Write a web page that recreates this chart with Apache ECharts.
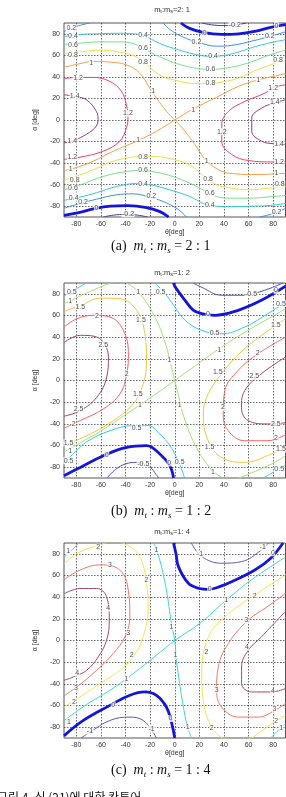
<!DOCTYPE html>
<html>
<head>
<meta charset="utf-8">
<script src="https://cdn.jsdelivr.net/npm/echarts@6/dist/echarts.min.js"></script>
<style>
html, body { margin: 0; padding: 0; background: #fff; }
#main { width: 286px; height: 797px; }
</style>
</head>
<body>
<div id="main"></div>
<script>
// 坐标刻度
var xTicks = [-80, -60, -40, -20, 0, 20, 40, 60, 80];
var yTicks = [-80, -60, -40, -20, 0, 20, 40, 60, 80];

// (a) mt : ms = 2 : 1   [level, [[theta, alpha], ...]]
var curvesA = [
    [-0.2, [[22, 90], [30, 88.3], [40, 87.6], [50, 88.3], [58, 90]]],
    [-0.2, [[-22, -90], [-30, -88.3], [-40, -87.6], [-50, -88.3], [-58, -90]]],
    [0, [[5, 90], [12, 85], [24, 81], [38, 79.5], [52, 80], [66, 82.5], [78, 86], [90, 88.5]]],
    [0, [[-5, -90], [-12, -85], [-24, -81], [-38, -79.5], [-52, -80], [-66, -82.5], [-78, -86], [-90, -88.5]]],
    [0.2, [[-90, 82], [-80, 86.8], [-69, 90]]],
    [0.2, [[-9.5, 90], [-5, 85], [1.4, 80], [9.5, 75.6], [20.3, 71.6], [33.9, 68.5], [47.4, 69.4], [63.7, 73.5], [77, 77.5], [90, 81.8]]],
    [0.2, [[90, -82], [80, -86.8], [69, -90]]],
    [0.2, [[9.5, -90], [5, -85], [-1.4, -80], [-9.5, -75.6], [-20.3, -71.6], [-33.9, -68.5], [-47.4, -69.4], [-63.7, -73.5], [-77, -77.5], [-90, -81.8]]],
    [0.4, [[-90, 77.5], [-75, 79.5], [-61, 80], [-45, 80.5], [-33.9, 80], [-25.7, 78.7], [-12.2, 71], [4, 64.8], [20.3, 60], [31, 59], [47.4, 61.7], [63.7, 67.5], [77, 71.5], [90, 74.5]]],
    [0.4, [[90, -77.5], [75, -79.5], [61, -80], [45, -80.5], [33.9, -80], [25.7, -78.7], [12.2, -71], [-4, -64.8], [-20.3, -60], [-31, -59], [-47.4, -61.7], [-63.7, -67.5], [-77, -71.5], [-90, -74.5]]],
    [0.6, [[-90, 70], [-75, 71.5], [-61, 72.5], [-45, 72.5], [-33.9, 71], [-25.7, 66.4], [-12.2, 58.6], [1.4, 52.5], [15, 48.5], [29, 46.8], [40, 48], [52, 50.5], [63.7, 54.5], [75, 59.5], [90, 65]]],
    [0.6, [[90, -70], [75, -71.5], [61, -72.5], [45, -72.5], [33.9, -71], [25.7, -66.4], [12.2, -58.6], [-1.4, -52.5], [-15, -48.5], [-29, -46.8], [-40, -48], [-52, -50.5], [-63.7, -54.5], [-75, -59.5], [-90, -65]]],
    [0.8, [[-90, 61.7], [-75, 63.5], [-61, 64.8], [-45, 63], [-33.9, 60], [-25.7, 54], [-12.2, 41.7], [0, 37], [15, 34], [28.5, 34], [40, 35.5], [51.8, 38.9], [63.7, 45], [75, 50], [90, 56]]],
    [0.8, [[90, -61.7], [75, -63.5], [61, -64.8], [45, -63], [33.9, -60], [25.7, -54], [12.2, -41.7], [0, -37], [-15, -34], [-28.5, -34], [-40, -35.5], [-51.8, -38.9], [-63.7, -45], [-75, -50], [-90, -56]]],
    [1, [[-90, 49], [-78, 52], [-66.4, 54.4], [-52.8, 53.7], [-39.3, 51.2], [-28.5, 43.5], [-20.3, 29.6], [-14.9, 20.4], [-6.7, 8.1], [0, 0], [6.7, -8.1], [14.9, -20.4], [20.3, -29.6], [26, -38], [38, -47.5], [50, -50], [62.6, -50.6], [76, -50.3], [90, -49.5]]],
    [1, [[-90, -47], [-78, -43.5], [-66.4, -38.3], [-50, -29], [-31, -19.7], [-14.9, -10.5], [0, 0], [13.8, 9.5], [32.8, 20.4], [51.8, 31.2], [68, 37.3], [78, 40], [90, 43]]],
    [1.2, [[-90, 38.5], [-78, 39.5], [-66.4, 39.5], [-52.8, 35.8], [-43.3, 26.6], [-39.3, 14.2], [-38, 1.9], [-39.3, -7.4], [-44.7, -19.7], [-58.3, -29], [-77, -34.5], [-90, -36.5]]],
    [1.2, [[90, 32.7], [80, 30], [73.4, 25], [57.2, 17.3], [43.6, 8], [38.2, -4.3], [38.2, -19.7], [46.3, -32], [59.9, -37.6], [78.9, -38.9], [90, -38.9]]],
    [1.4, [[-90, 23.5], [-80, 21.5], [-71.8, 18.8], [-63.7, 8], [-62.3, 0.3], [-65, -7.4], [-74.6, -15.1], [-82, -19], [-90, -21.3]]],
    [1.4, [[90, 18.8], [80, 15.5], [70.7, 11.1], [62.6, 1.9], [62.6, -10.5], [70.7, -19.7], [80, -22], [90, -22.8]]]
];
var labelsA = [
    [-84, 84.9, '0.2'], [-82.7, 77.8, '0.4'], [-82.7, 69.4, '0.6'], [-82.7, 60.2, '0.8'], [-67.8, 52.5, '1'],
    [-78.6, 39.2, '1.2'], [-81.3, 22.2, '1.4'], [-83.2, -19.1, '1.4'], [-83.2, -34, '1.2'], [-84.6, -45.7, '1'],
    [-81.3, -55.6, '0.8'], [-82.7, -63.3, '0.6'], [-82.1, -72, '0.4'], [-74.5, -76.5, '0.2'], [-63.7, -81.8, '0'],
    [-25.7, 78.7, '0.4'], [-25.7, 66.4, '0.6'], [-25.7, 54, '0.8'], [-17.6, 27, '1'], [-38, 6.2, '1.2'],
    [-29.8, -18.5, '1'], [-25.7, -34, '0.8'], [-25.7, -46.8, '0.6'], [-25.7, -59, '0.4'], [-19, -71, '0.2'],
    [-38, -87, '-0.2'],
    [48.8, 88, '-0.2'], [82.7, 87.5, '0'], [24.4, 80.8, '0'], [17.6, 72, '0.2'], [77.2, 77.5, '0.2'],
    [31.2, 59, '0.4'], [29, 46.9, '0.6'], [29, 34, '0.8'], [84, 55.6, '0.8'], [67.8, 37.5, '1'],
    [80, 30, '1.2'], [81.3, 16.5, '1.4'], [14.9, 9.3, '1'], [38.2, -10.8, '1.2'], [84.8, -22, '1.4'],
    [84.8, -38.8, '1.2'], [26, -38.5, '1'], [82.7, -49.6, '1'], [27.1, -54.6, '0.8'], [85.4, -59.6, '0.8'],
    [28.5, -67.9, '0.6'], [28.5, -78.9, '0.4'], [82.7, -85, '0.2']
];

// (b) mt : ms = 1 : 2
var curvesB = [
    [-0.5, [[15, 90], [22, 86], [38, 78.7], [56.9, 78.7], [73, 83.3], [86, 89], [88, 90]]],
    [-0.5, [[-55, -90], [-48, -82], [-40, -77], [-31, -75.6], [-20.2, -80], [-15, -87], [-13, -90]]],
    [0, [[-1, 90], [0.3, 86.4], [8.4, 74], [15, 65], [21.8, 61.7], [32.6, 60.2], [51.5, 64.8], [70.4, 74], [90, 87]]],
    [0, [[-90, -88], [-76.8, -80.2], [-58, -69.4], [-39, -61.7], [-22.9, -60.2], [-12.1, -67.9], [-4, -78.7], [-1, -90]]],
    [0.5, [[-90, 78], [-84, 82], [-78, 86], [-72, 90]]],
    [0.5, [[-16, 90], [-10, 83], [-5, 76], [0, 68], [8.4, 55.6], [21.8, 46.3], [38, 43.2], [56.9, 49.4], [75.7, 61.7], [90, 72.5]]],
    [0.5, [[90, -78], [84, -82], [78, -86], [72, -90]]],
    [0.5, [[-90, -76], [-80, -65], [-71.4, -56.5], [-52.6, -46.3], [-33.7, -41.7], [-21.6, -41.7], [-12.1, -49.4], [-4, -60], [1, -70], [5, -80], [8, -90]]],
    [1, [[-90, 71], [-84, 74], [-75, 79], [-62, 85.5], [-52, 90], [-45, 92], [-39, 90], [-28.3, 80.2], [-14.8, 55.6], [-6.7, 30.9], [-4, 18.5], [0, 0], [4, -18.5], [6.7, -30.9], [14.8, -55.6], [28.3, -80.2], [39, -90], [45, -92], [52, -90], [62, -85.5], [75, -79], [84, -74], [90, -69]]],
    [1, [[-90, -66], [-78.4, -58.6], [-59.6, -46.3], [-38, -30], [-13.7, -11.1], [0, 0], [13.7, 11.1], [38, 30.9], [59.6, 46.3], [78.4, 58.6], [90, 66]]],
    [1.5, [[-90, 64], [-76.8, 69], [-60.6, 76], [-44.5, 75.5], [-31, 64.8], [-24.3, 43.2], [-22.9, 18.5], [-25.6, -3.1], [-33.7, -21.6], [-49.9, -37], [-68.7, -49.4], [-90, -60]]],
    [1.5, [[90, 57], [65, 37], [50, 22], [38, 6.2], [27.2, -12.3], [23.2, -30.9], [27.2, -55.6], [38, -71], [56.9, -75.6], [78.4, -67.9], [90, -62]]],
    [2, [[-90, 49.4], [-79.5, 57], [-66, 60.2], [-52.6, 58.6], [-41.8, 46.3], [-37.7, 24.7], [-39, 6.2], [-44.5, -12.3], [-58, -26.2], [-76.8, -37], [-90, -44]]],
    [2, [[90, 40], [67.7, 24.7], [51.5, 9.3], [40.7, -9.3], [39.4, -30.9], [43.4, -46.3], [56.9, -55.6], [75.7, -55.6], [90, -50]]],
    [2.5, [[-90, 35], [-76.8, 41.7], [-63.3, 40.1], [-53.9, 21.6], [-55.3, 3.1], [-63.3, -15.4], [-76.8, -27.8], [-90, -33]]],
    [2.5, [[90, 21.6], [70.4, 6.2], [56.9, -9.3], [54.2, -24.7], [59.6, -37], [75.7, -40.1], [90, -39]]]
];
var labelsB = [
    [-83.6, 81.8, '0.5'], [-84.9, 73.5, '1'], [-76.8, 68, '1.5'], [-63.3, 59.5, '2'], [-58, 33, '2.5'],
    [-78.2, -26, '2.5'], [-82.2, -40.5, '2'], [-86.3, -57.5, '1.5'], [-84.9, -64.8, '1'], [-86.3, -74, '0.5'],
    [-55.3, -68.5, '0'],
    [-29.6, 81.8, '1'], [-11.5, 82, '0.5'], [-27.5, 55.6, '1.5'], [-39.1, 6.2, '2'], [-30, -12.3, '1.5'],
    [-28.3, -23, '1'], [-4.5, 18.5, '1'], [-31, -43.5, '0.5'], [-25.6, -77, '-0.5'], [-4.5, -76, '0'],
    [4, -23.1, '1'], [4, -75, '0.5'],
    [27, 61, '0'], [62, 79.5, '-0.5'], [82.2, 83.3, '0'], [86.3, 71, '0.5'], [32.3, 44, '0.5'],
    [36.4, 28.5, '1'], [82.2, 51, '1.5'], [67.4, 25.5, '2'], [35, 8, '1.5'], [64.7, 4, '2.5'],
    [39.1, -24.7, '2'], [82.2, -40, '2.5'], [82.2, -53, '2'], [28.3, -61.7, '1.5'], [86.3, -63.5, '1.5'],
    [84.9, -82, '0.5'], [31, -84.5, '1']
];

// (c) mt : ms = 1 : 4
var curvesC = [
    [-1, [[13.5, 90], [21.9, 77.5], [38.1, 71.3], [54.3, 72.8], [70.5, 83.6], [76, 90]]],
    [-1, [[-76, -90], [-68.9, -84.6], [-52.7, -73.8], [-36.5, -70.7], [-25.7, -73.8], [-17.6, -84.6], [-15, -90]]],
    [0, [[-1, 90], [1, 80], [3, 68.2], [11.1, 52.8], [20, 48], [27.3, 47.2], [37, 50], [46.2, 54.3], [65.1, 65.1], [78, 76], [88, 90]]],
    [0, [[-90, -88], [-74.3, -73.8], [-52.7, -59.9], [-36.5, -50.6], [-24.3, -47.5], [-14.9, -50.6], [-6.8, -61.4], [-2.7, -75.3], [0, -90]]],
    [1, [[-90, 77], [-84, 83], [-78, 90]]],
    [1, [[90, -77], [84, -83], [78, -90]]],
    [1, [[-17, 90], [-12.2, 74.4], [-6.8, 46.6], [-2.7, 15.7], [0, 0], [1.4, -18.5], [4, -40], [6.8, -60], [10, -78], [13.5, -90]]],
    [1, [[-90, -74], [-71.6, -59], [-52.7, -46], [-33.8, -30.6], [-14.9, -13.6], [0, 0], [20.3, 15.7], [41.9, 37.3], [63.5, 57], [90, 77]]],
    [2, [[-90, 71], [-77, 82], [-60.8, 88.3], [-50, 92], [-39, 88.3], [-28.4, 77.5], [-23, 52.8], [-21.6, 31.2], [-25.7, 3.4], [-33.8, -15.1], [-44.6, -27.5], [-60.8, -39.8], [-77, -52.2], [-90, -61.4]]],
    [2, [[90, 60.5], [65, 42], [40.8, 21.9], [27.3, 3.4], [21.9, -30.6], [23.2, -55.2], [27.3, -73.8], [34, -86], [42, -91], [52, -92], [62, -90], [70, -84], [78.6, -77], [90, -69]]],
    [3, [[-90, 56], [-77, 65], [-60.8, 69.8], [-44.6, 65], [-37.8, 46.6], [-36.5, 21.9], [-40.5, 3.4], [-50, -12], [-63.5, -27.5], [-79.7, -43], [-90, -51]]],
    [3, [[90, 43.5], [75, 31], [59.7, 18.8], [43.5, -2.8], [35.4, -24.4], [34, -46], [38.1, -61.4], [51.6, -70.7], [67.8, -70.7], [81.4, -64.5], [90, -58]]],
    [4, [[-90, 43], [-77, 48], [-63.5, 48], [-55.4, 40.4], [-53.2, 18.8], [-55.4, 0.3], [-62.2, -15.1], [-71.6, -27.5], [-81, -33], [-90, -36.7]]],
    [4, [[90, 27], [70.5, 3.4], [59.7, -9], [54.3, -24.4], [54.3, -39.8], [62.4, -47.5], [78.6, -47.5], [90, -44.4]]]
];
var labelsC = [
    [-86.5, 82.1, '1'], [-62.2, 86, '2'], [-52.7, 69.5, '3'], [-54.1, 30, '4'], [-79.2, -30, '4'],
    [-80.3, -44, '3'], [-81.9, -57, '2'], [-86, -75, '1'], [-68.9, -84, '-1'], [-50, -59.5, '0'],
    [-14.9, 83.6, '1'], [-23, 55.9, '2'], [-37.8, 7.1, '3'], [-35, -13.6, '2'], [-39.2, -35.2, '1'],
    [-2.7, 12.7, '1'], [0.6, -13.6, '1'], [-18.9, -82, '-1'], [-3.5, -72, '0'], [10.5, -80, '1'],
    [20.5, 80, '-1'], [71.6, 86, '-1'], [28.4, 47.2, '0'], [79.7, 81, '0'], [41.9, 37.3, '1'],
    [64.9, 41.4, '2'], [58.1, 19, '3'], [58.6, -6, '4'], [25.7, -10.5, '2'], [34, -45.4, '3'],
    [79.7, -47, '4'], [81.1, -63, '3'], [82.4, -74, '2'], [30, -81, '2'], [86.5, -81, '1']
];

var titleRatios = ['2: 1', '1: 2', '1: 4'];
var captionRatios = ['2 : 1', '1 : 2', '1 : 4'];
var captionTags = ['(a)', '(b)', '(c)'];
var footnote = '그림 4. 식 (21)에 대한 칸투어';

// 线条颜色 (jet 风格)
var colorsA = { '-0.2': '#3c3ca8', '0': '#1414dc', '0.2': '#3e8ee4', '0.4': '#34c6d8', '0.6': '#78e08a', '0.8': '#e4e24a', '1': '#f0a048', '1.2': '#e04478', '1.4': '#9c3a70' };
var colorsB = { '-0.5': '#4e4eb4', '0': '#1414dc', '0.5': '#34c8e0', '1': '#9ee07a', '1.5': '#f0c444', '2': '#f06464', '2.5': '#a0465e' };
var colorsC = { '-1': '#5a5ac0', '0': '#1414dc', '1': '#40d6c8', '2': '#e8e852', '3': '#f07868', '4': '#a04870' };

var grids = [
    { left: 64, top: 23, width: 221.5, height: 194 },
    { left: 64, top: 283, width: 221.5, height: 195 },
    { left: 64, top: 543, width: 221.5, height: 195 }
];
var titleY = [10, 273, 532];
var captionY = [247, 512, 771];

var axisFont = 'Liberation Sans, Arial, sans-serif';
var serif = 'Liberation Serif, Times New Roman, serif';

function buildSeries(curves, labels, colors, idx) {
    var list = [];
    curves.forEach(function (c) {
        var zero = c[0] === 0;
        list.push({
            type: 'line',
            xAxisIndex: idx,
            yAxisIndex: idx,
            data: c[1],
            smooth: 0.4,
            symbol: 'none',
            clip: true,
            silent: true,
            z: zero ? 4 : 3,
            lineStyle: { color: colors[String(c[0])], width: zero ? 2.8 : 1 }
        });
    });
    // 等高线数值标签
    list.push({
        type: 'scatter',
        xAxisIndex: idx,
        yAxisIndex: idx,
        symbolSize: 1,
        silent: true,
        z: 6,
        itemStyle: { color: 'rgba(0,0,0,0)' },
        data: labels.map(function (l) { return { value: [l[0], l[1]], name: l[2] }; }),
        label: {
            show: true,
            position: 'inside',
            formatter: function (p) { return p.name; },
            fontSize: 7,
            fontFamily: axisFont,
            color: '#222',
            backgroundColor: '#fff',
            padding: [0, 0.5]
        }
    });
    return list;
}

function axisX(i) {
    return {
        type: 'value', gridIndex: i, min: -90, max: 90,
        axisLine: { show: false },
        axisTick: { show: false, customValues: xTicks },
        axisLabel: { customValues: xTicks, fontSize: 7, color: '#333', margin: 4, fontFamily: axisFont },
        splitLine: { show: true, lineStyle: { color: '#444', type: [1.5, 1.5], width: 0.8 } },
        name: 'θ[deg]', nameLocation: 'middle', nameGap: 11,
        nameTextStyle: { fontSize: 7, color: '#333', fontFamily: axisFont }
    };
}

function axisY(i) {
    return {
        type: 'value', gridIndex: i, min: -90, max: 90,
        axisLine: { show: false },
        axisTick: { show: false, customValues: yTicks },
        axisLabel: { customValues: yTicks, fontSize: 7, color: '#333', margin: 4, fontFamily: axisFont },
        splitLine: { show: true, lineStyle: { color: '#444', type: [1.5, 1.5], width: 0.8 } },
        name: 'α [deg]', nameLocation: 'middle', nameGap: 14,
        nameTextStyle: { fontSize: 7, color: '#333', fontFamily: axisFont }
    };
}

function chartsRender() {
    var chart = echarts.init(document.getElementById('main'), null, { renderer: 'canvas' });

    var graphics = [];
    for (var i = 0; i < 3; i++) {
        // 小标题
        graphics.push({
            type: 'text', x: 172, y: titleY[i],
            style: {
                text: '{m|m}{s|t}{m|:m}{s|s}{m|=' + titleRatios[i] + '}',
                align: 'center', verticalAlign: 'middle',
                rich: {
                    m: { fontSize: 7.5, fontFamily: axisFont, fill: '#333', lineHeight: 9, verticalAlign: 'top' },
                    s: { fontSize: 5.5, fontFamily: axisFont, fill: '#333', lineHeight: 6, verticalAlign: 'bottom' }
                }
            }
        });
        // 图注
        graphics.push({
            type: 'text', x: 111, y: captionY[i],
            style: {
                text: '{r|' + captionTags[i] + '  }{i|m}{si|t}{r| : }{i|m}{si|s}{r| = ' + captionRatios[i] + '}',
                align: 'left', verticalAlign: 'middle',
                rich: {
                    r: { fontSize: 14, fontFamily: serif, fill: '#111', lineHeight: 16, verticalAlign: 'top' },
                    i: { fontSize: 14, fontFamily: serif, fontStyle: 'italic', fill: '#111', lineHeight: 16, verticalAlign: 'top' },
                    si: { fontSize: 9, fontFamily: serif, fontStyle: 'italic', fill: '#111', lineHeight: 10, verticalAlign: 'bottom' }
                }
            }
        });
    }
    graphics.push({
        type: 'text', x: -3, y: 797,
        style: {
            text: footnote, fontSize: 12, fill: '#111',
            fontFamily: 'Noto Sans CJK KR, sans-serif',
            align: 'left', verticalAlign: 'middle'
        }
    });

    var option = {
        animation: false,
        backgroundColor: '#fff',
        grid: grids.map(function (g) {
            return { left: g.left, top: g.top, width: g.width, height: g.height, show: true, borderColor: '#555', borderWidth: 1, backgroundColor: 'transparent' };
        }),
        xAxis: [axisX(0), axisX(1), axisX(2)],
        yAxis: [axisY(0), axisY(1), axisY(2)],
        series: [].concat(
            buildSeries(curvesA, labelsA, colorsA, 0),
            buildSeries(curvesB, labelsB, colorsB, 1),
            buildSeries(curvesC, labelsC, colorsC, 2)
        ),
        graphic: graphics
    };

    chart.setOption(option);
}

chartsRender();
</script>
</body>
</html>
